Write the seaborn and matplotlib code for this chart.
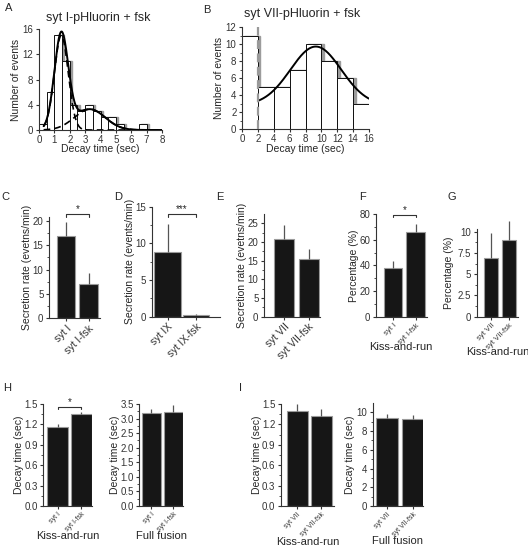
import numpy as np
import pandas as pd
import matplotlib
matplotlib.use('Agg')
import matplotlib.pyplot as plt
import seaborn as sns

sns.set_style('ticks')
plt.rcParams['font.family'] = ['Liberation Sans', 'DejaVu Sans']
plt.rcParams['axes.linewidth'] = 0.8
plt.rcParams['axes.edgecolor'] = '#333333'
plt.rcParams['xtick.color'] = '#333333'
plt.rcParams['ytick.color'] = '#333333'
plt.rcParams['xtick.major.size'] = 2.5
plt.rcParams['ytick.major.size'] = 2.5
plt.rcParams['xtick.minor.size'] = 1.5
plt.rcParams['ytick.minor.size'] = 1.5
plt.rcParams['xtick.major.pad'] = 1.2
plt.rcParams['ytick.major.pad'] = 1.5

# ---- data ----
# A: syt I-pHluorin + fsk histogram (bin width 0.5 s)
a_edges = [0, 0.5, 1, 1.5, 2, 2.5, 3, 3.5, 4, 4.5, 5, 5.5, 6, 6.5, 7]
a_counts = [1, 6, 15, 11, 4, 3, 4, 3, 2, 2, 1, 0, 0, 1]
a_fit1 = (15.0, 1.45, 0.45)   # amplitude, mean, sigma
a_fit2 = (3.3, 3.3, 1.0)

# B: syt VII-pHluorin + fsk histogram (bin width 2 s)
b_edges = [0, 2, 4, 6, 8, 10, 12, 14, 16]
b_counts = [11, 5, 5, 7, 10, 8, 6, 3]
b_fit = (2.8, 6.9, 9.3, 3.2)  # baseline, amplitude, mean, sigma

# bar panels: labels, means, upper error tops
c_labels = ['syt I', 'syt I-fsk']
c_means = [16.8, 7.0]
c_tops = [19.8, 9.2]

d_labels = ['syt IX', 'syt IX-fsk']
d_means = [8.87, 0.23]
d_tops = [12.65, 0.35]

e_labels = ['syt VII', 'syt VII-fsk']
e_means = [20.7, 15.3]
e_tops = [24.5, 18.0]

f_labels = ['syt I', 'syt I-fsk']
f_means = [37.7, 65.7]
f_tops = [43.6, 72.2]

g_labels = ['syt VII', 'syt VII-fsk']
g_means = [6.87, 9.02]
g_tops = [9.8, 11.26]

h1_labels = ['syt I', 'syt I-fsk']
h1_means = [1.16, 1.35]
h1_tops = [1.20, 1.38]

h2_labels = ['syt I', 'syt I-fsk']
h2_means = [3.20, 3.24]
h2_tops = [3.32, 3.45]

i1_labels = ['syt VII', 'syt VII-fsk']
i1_means = [1.40, 1.33]
i1_tops = [1.495, 1.42]

i2_labels = ['syt VII', 'syt VII-fsk']
i2_means = [9.43, 9.28]
i2_tops = [9.82, 9.71]

W, H = 528, 549
fig = plt.figure(figsize=(W / 100, H / 100), dpi=100)


def add_ax(left, right, top, bottom):
    ax = fig.add_axes([left / W, 1 - bottom / H, (right - left) / W, (bottom - top) / H])
    ax._px = (left, right, top, bottom)
    return ax


def place_labels(ax, ylab_right, xlab_top):
    # label anchors given in figure pixels, converted to axes fractions
    left, right, top, bottom = ax._px
    ax.yaxis.set_label_coords((ylab_right - left) / (right - left), 0.5)
    ax.xaxis.set_label_coords(0.5, (bottom - xlab_top) / (bottom - top))


def gauss(x, amp, mu, sig):
    return amp * np.exp(-(x - mu) ** 2 / (2 * sig ** 2))


def hist_panel(ax, edges, counts, shift):
    edges = np.array(edges, dtype=float)
    centers = (edges[:-1] + edges[1:]) / 2
    df = pd.DataFrame({'t': centers, 'n': counts})
    shadow = pd.DataFrame({'t': centers + shift, 'n': counts})
    # grey offset copy gives the shadowed bar edges
    sns.histplot(data=shadow, x='t', weights='n', bins=list(edges + shift), ax=ax,
                 color='#9c9c9c', edgecolor='#9c9c9c', alpha=1, linewidth=1.0)
    sns.histplot(data=df, x='t', weights='n', bins=list(edges), ax=ax,
                 color='white', edgecolor='#111111', alpha=1, linewidth=0.7)
    ax.set_ylabel('Number of events', fontsize=7.5)
    ax.set_xlabel('Decay time (sec)', fontsize=7.5)
    ax.tick_params(labelsize=7)
    sns.despine(ax=ax)


def bar_panel(ax, labels, means, tops, width, xlim, ylim, ylabel, xlabel=None,
              tick_fs=7, xtick_fs=7.5):
    sns.barplot(x=labels, y=means, ax=ax, color='#161616', edgecolor='#9a9a9a',
                linewidth=0.8, width=width, saturation=1)
    err = np.array(tops) - np.array(means)
    ax.errorbar([0, 1], means, yerr=[np.zeros(2), err], fmt='none',
                ecolor='#555555', elinewidth=0.9, capsize=0, clip_on=False, zorder=1)
    ax.set_xlim(*xlim)
    ax.set_ylim(*ylim)
    ax.set_ylabel(ylabel, fontsize=7.5)
    ax.tick_params(axis='y', labelsize=tick_fs)
    ax.tick_params(axis='x', labelsize=xtick_fs)
    plt.setp(ax.get_xticklabels(), rotation=45, ha='right', rotation_mode='anchor')
    if xlabel:
        ax.set_xlabel(xlabel, fontsize=8)
    else:
        ax.set_xlabel('')
    sns.despine(ax=ax)


def bracket(ax, y, drop, star):
    ax.plot([0, 0, 1, 1], [y - drop, y, y, y - drop], color='#333333', lw=0.8, clip_on=False)
    ax.text(0.5, y, star, ha='center', va='bottom', fontsize=7)


# ---- A ----
ax = add_ax(39, 162, 29, 130)
hist_panel(ax, a_edges, a_counts, 0.14)
xs = np.linspace(0.3, 8, 300)
ax.plot(xs, gauss(xs, *a_fit1) + gauss(xs, *a_fit2), color='black', lw=1.4, zorder=5)
ax.plot(xs, gauss(xs, *a_fit1), color='black', lw=1.2, ls=(0, (4, 2.5)), zorder=5)
ax.plot(xs, gauss(xs, *a_fit2), color='black', lw=1.2, ls=(0, (4, 2.5)), zorder=5)
ax.set_xlim(0, 8)
ax.set_ylim(0, 16)
ax.set_xticks(range(0, 9))
ax.set_yticks([0, 4, 8, 12, 16])
ax.set_title('syt I-pHluorin + fsk', fontsize=9, pad=6, x=0.48)
place_labels(ax, 21, 144)

# ---- B ----
ax = add_ax(242, 369, 27, 129)
hist_panel(ax, b_edges, b_counts, 0.3)
xs = np.linspace(2, 16, 300)
ax.plot(xs, b_fit[0] + gauss(xs, *b_fit[1:]), color='black', lw=1.4, zorder=5)
ax.axvline(2, color='#999999', lw=1.6, ls=(0, (4, 2)), zorder=6)
ax.set_xlim(0, 16)
ax.set_ylim(0, 12)
ax.set_xticks(range(0, 17, 2))
ax.set_yticks(range(0, 13, 2))
ax.set_yticks(range(1, 12, 2), minor=True)
ax.set_title('syt VII-pHluorin + fsk', fontsize=9, pad=7, x=0.47)
place_labels(ax, 224, 144)

# ---- C ----
ax = add_ax(49, 100, 216.8, 318.3)
bar_panel(ax, c_labels, c_means, c_tops, 0.82, (-0.76, 1.51), (0, 20.8),
          'Secretion rate (evetns/min)')
ax.set_yticks([0, 5, 10, 15, 20])
ax.set_yticks(np.arange(2.5, 20, 5), minor=True)
bracket(ax, 21.4, 0.7, '*')
place_labels(ax, 32, 345)

# ---- D ----
ax = add_ax(151.7, 220, 206.7, 316.7)
bar_panel(ax, d_labels, d_means, d_tops, 0.95, (-0.57, 1.85), (0, 15),
          'Secretion rate (events/min)')
ax.set_yticks([0, 5, 10, 15])
ax.set_yticks(np.arange(2.5, 15, 5), minor=True)
bracket(ax, 14.0, 0.45, '***')
place_labels(ax, 135, 345)

# ---- E ----
ax = add_ax(264, 320, 213.8, 316.7)
bar_panel(ax, e_labels, e_means, e_tops, 0.82, (-0.83, 1.46), (0, 27.5),
          'Secretion rate (evetns/min)')
ax.set_yticks([0, 5, 10, 15, 20, 25])
ax.set_yticks(np.arange(2.5, 27, 5), minor=True)
place_labels(ax, 247, 345)

# ---- F ----
ax = add_ax(375.7, 426.7, 214, 316.7)
bar_panel(ax, f_labels, f_means, f_tops, 0.83, (-0.78, 1.5), (0, 80),
          'Percentage (%)', 'Kiss-and-run', xtick_fs=5.5)
ax.set_yticks([0, 20, 40, 60, 80])
ax.set_yticks(np.arange(10, 80, 20), minor=True)
bracket(ax, 79.2, 1.8, '*')
place_labels(ax, 359, 342)

# ---- G ----
ax = add_ax(476.7, 518, 229.2, 316.7)
bar_panel(ax, g_labels, g_means, g_tops, 0.8, (-0.8, 1.49), (0, 10.3),
          'Percentage (%)', 'Kiss-and-run', xtick_fs=5.5)
ax.set_yticks([0, 2.5, 5, 7.5, 10])
ax.set_yticklabels(['0', '2.5', '5', '7.5', '10'])
ax.set_yticks(np.arange(1.25, 10, 2.5), minor=True)
place_labels(ax, 454, 347)

# ---- H ----
ax = add_ax(43.3, 91.7, 404, 506)
bar_panel(ax, h1_labels, h1_means, h1_tops, 0.9, (-0.6, 1.44), (0, 1.5),
          'Decay time (sec)', 'Kiss-and-run', tick_fs=7, xtick_fs=5)
ax.set_yticks(np.arange(0, 1.51, 0.3))
ax.set_yticklabels(['0.0', '0.3', '0.6', '0.9', '1.2', '1.5'])
ax.set_yticks(np.arange(0.15, 1.5, 0.3), minor=True)
bracket(ax, 1.46, 0.04, '*')
place_labels(ax, 24.5, 531)

ax = add_ax(139.3, 183.3, 404, 506)
bar_panel(ax, h2_labels, h2_means, h2_tops, 0.9, (-0.55, 1.45), (0, 3.5),
          'Decay time (sec)', 'Full fusion', tick_fs=7, xtick_fs=5)
ax.set_yticks(np.arange(0, 3.51, 0.5))
ax.set_yticklabels(['0.0', '0.5', '1.0', '1.5', '2.0', '2.5', '3.0', '3.5'])
ax.set_yticks(np.arange(0.25, 3.5, 0.5), minor=True)
place_labels(ax, 120.5, 531)

# ---- I ----
ax = add_ax(281, 334, 404, 506)
bar_panel(ax, i1_labels, i1_means, i1_tops, 0.875, (-0.68, 1.53), (0, 1.5),
          'Decay time (sec)', 'Kiss-and-run', tick_fs=7, xtick_fs=5)
ax.set_yticks(np.arange(0, 1.51, 0.3))
ax.set_yticklabels(['0.0', '0.3', '0.6', '0.9', '1.2', '1.5'])
ax.set_yticks(np.arange(0.15, 1.5, 0.3), minor=True)
place_labels(ax, 262, 537)

ax = add_ax(372.7, 423.3, 403, 506)
bar_panel(ax, i2_labels, i2_means, i2_tops, 0.85, (-0.54, 1.41), (0, 11),
          'Decay time (sec)', 'Full fusion', tick_fs=7, xtick_fs=5)
ax.set_yticks([0, 2, 4, 6, 8, 10])
ax.set_yticks(np.arange(1, 11, 2), minor=True)
place_labels(ax, 355, 536)

# panel letters
for letter, px, py in [('A', 9, 8), ('B', 207, 10), ('C', 5, 197), ('D', 118, 197),
                       ('E', 220, 197), ('F', 362, 197), ('G', 452, 197),
                       ('H', 7, 388), ('I', 240, 388)]:
    fig.text(px / W, 1 - py / H, letter, fontsize=8, ha='center', va='center')

fig.savefig('out.png', dpi=100, facecolor='white')
